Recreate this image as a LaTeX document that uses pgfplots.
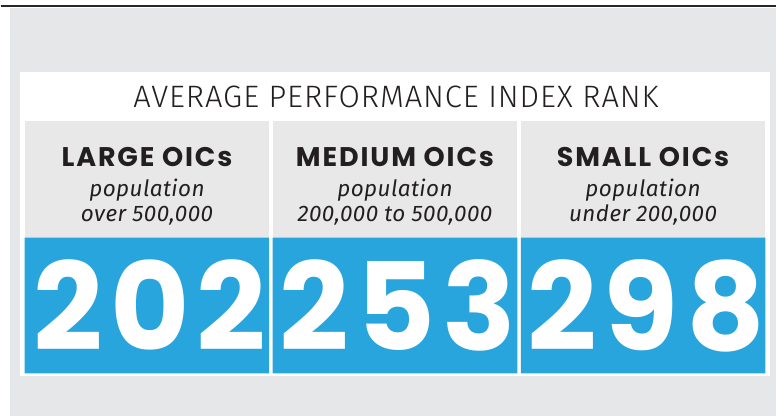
\documentclass[border=0pt]{standalone}
\usepackage{fontspec}
\setmainfont{Fira Sans}
\newfontfamily\titlefont[LetterSpace=3]{Fira Sans Light}
\newfontfamily\numfont[LetterSpace=6]{Poppins}
\newfontfamily\hdrfont[LetterSpace=7]{Poppins}
\newfontfamily\subfont[LetterSpace=2]{Fira Sans}
\usepackage{pgfplots}
\usepackage{pgfplotstable}
\pgfplotsset{compat=1.18}

\definecolor{bgGrey}{HTML}{E6E7E8}
\definecolor{panelGrey}{HTML}{E8E8E8}
\definecolor{tileBlue}{HTML}{29A5DD}
\definecolor{ink}{HTML}{231F20}

% column centre (px) and average rank
\pgfplotstableread{
x     rank
146.5 202
395   253
643.5 298
}\ranks

\begin{document}
\begin{tikzpicture}
\begin{axis}[
    width=777pt, height=417pt, scale only axis,
    xmin=0, xmax=777, ymin=-374, ymax=43, y dir=reverse,
    axis lines=none, clip=false,
]
% frame and panels (y = pixel row - 374)
\path (axis cs:0,-374) rectangle (axis cs:777,43);
\fill[bgGrey] (axis cs:9,-366) rectangle (axis cs:777,43);
\draw[line width=1.5pt, black!85] (axis cs:0,-368) -- (axis cs:777,-368);
\fill[white] (axis cs:19,-302) rectangle (axis cs:771,3);
\fill[panelGrey] (axis cs:24,-253) rectangle (axis cs:269,-136);
\fill[panelGrey] (axis cs:273,-253) rectangle (axis cs:517,-136);
\fill[panelGrey] (axis cs:521,-253) rectangle (axis cs:766,-136);

% blue tiles
\addplot[ybar, bar width=245, fill=tileBlue, draw=none]
    table[x=x, y expr=-136] {\ranks};

% rank numbers
\addplot[draw=none, mark=none, point meta=explicit symbolic,
    nodes near coords={\pgfplotspointmeta},
    every node near coord/.append style={anchor=base, inner sep=0pt,
        xshift=3pt, text=white,
        font=\numfont\bfseries\fontsize{122}{122}\selectfont}]
    table[x=x, y expr=-23, meta=rank] {\ranks};

% title
\node[anchor=base, inner sep=0pt, text=ink,
      font=\titlefont\fontsize{31}{31}\selectfont]
    at (axis cs:396,-266) {AVERAGE PERFORMANCE INDEX RANK};

% column headers
\tikzset{hdr/.style={anchor=base, inner sep=0pt, text=ink,
        font=\hdrfont\bfseries\fontsize{27}{27}\selectfont},
    sub/.style={anchor=base, inner sep=0pt, text=ink,
        font=\subfont\itshape\fontsize{22.5}{22.5}\selectfont}}
\node[hdr] at (axis cs:146.5,-207) {LARGE OICs};
\node[sub] at (axis cs:146.5,-177) {population};
\node[sub] at (axis cs:146.5,-152) {over 500,000};
\node[hdr] at (axis cs:395,-207) {MEDIUM OICs};
\node[sub] at (axis cs:395,-177) {population};
\node[sub] at (axis cs:395,-152) {200,000 to 500,000};
\node[hdr] at (axis cs:643.5,-207) {SMALL OICs};
\node[sub] at (axis cs:643.5,-177) {population};
\node[sub] at (axis cs:643.5,-152) {under 200,000};
\end{axis}
\end{tikzpicture}
\end{document}
